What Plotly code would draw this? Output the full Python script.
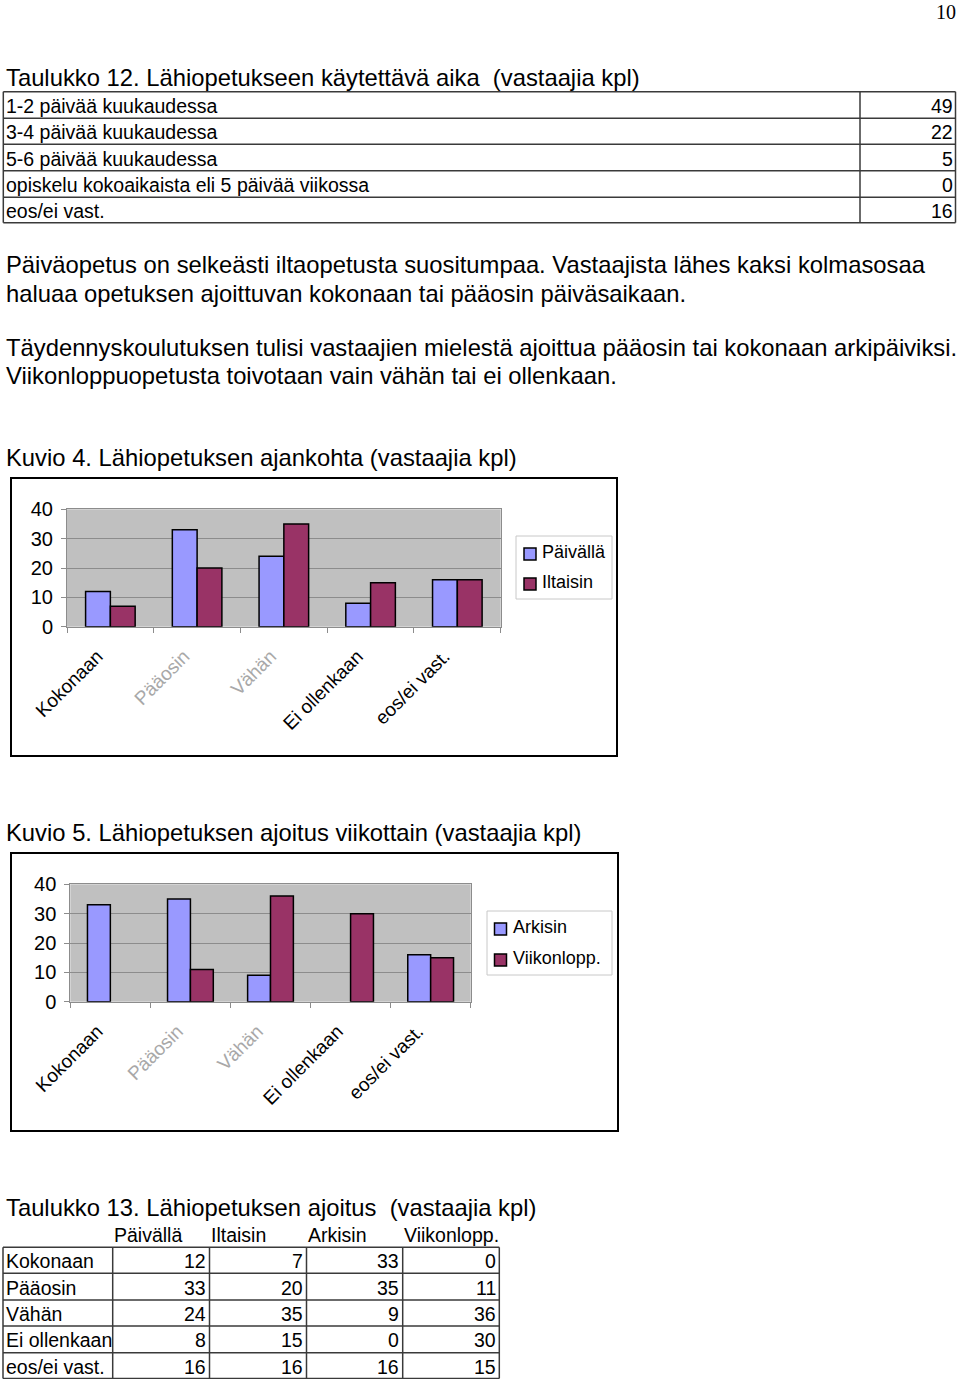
import plotly.graph_objects as go

# ---------------- data ----------------
categories = ["Kokonaan", "Pääosin", "Vähän", "Ei ollenkaan", "eos/ei vast."]
paivalla = [12, 33, 24, 8, 16]
iltaisin = [7, 20, 35, 15, 16]
arkisin = [33, 35, 9, 0, 16]
viikonlopp = [0, 11, 36, 30, 15]

t12_labels = ["1-2 päivää kuukaudessa", "3-4 päivää kuukaudessa", "5-6 päivää kuukaudessa",
              "opiskelu kokoaikaista eli 5 päivää viikossa", "eos/ei vast."]
t12_values = [49, 22, 5, 0, 16]

series_names = ["Päivällä", "Iltaisin", "Arkisin", "Viikonlopp."]
y_ticks = [0, 10, 20, 30, 40]

# ---------------- page geometry ----------------
W, H = 960, 1379
ARIAL = "Arial, Liberation Sans, sans-serif"
TIMES = "Times New Roman, Liberation Serif, serif"
BLUE = "#9999FF"
PLUM = "#993366"
TITLE_SIZE = 23.8
TABLE_SIZE = 19.5


def px(x):
    return x / W


def py(y):
    return 1 - y / H


annotations = []
shapes = []


def text(x, y, s, size=TITLE_SIZE, anchor="left", family=ARIAL, color="black"):
    annotations.append(dict(x=px(x), y=py(y), xref="paper", yref="paper", text=s,
                            showarrow=False, xanchor=anchor, yanchor="middle",
                            font=dict(size=size, family=family, color=color)))


def line(x0, y0, x1, y1, color="#3a3a3a", width=1.5):
    shapes.append(dict(type="line", xref="paper", yref="paper",
                       x0=px(x0), y0=py(y0), x1=px(x1), y1=py(y1),
                       line=dict(color=color, width=width)))


def rect(x0, y0, x1, y1, color="black", width=2, fill="rgba(0,0,0,0)"):
    shapes.append(dict(type="rect", xref="paper", yref="paper",
                       x0=px(x0), y0=py(y0), x1=px(x1), y1=py(y1),
                       line=dict(color=color, width=width), fillcolor=fill))


# page number
text(958, 12.5, "10", size=20, anchor="right", family=TIMES)

# Table 12
text(4, 77, "Taulukko 12. Lähiopetukseen käytettävä aika\u00a0 (vastaajia kpl)")
t12_rows = [91.7, 118.3, 144.3, 170.7, 197.3, 222.7]
for yy in t12_rows:
    line(3.3, yy, 955.5, yy)
for xx in [3.3, 860, 955.5]:
    line(xx, t12_rows[0], xx, t12_rows[-1])
for i, (lab, val) in enumerate(zip(t12_labels, t12_values)):
    yc = (t12_rows[i] + t12_rows[i + 1]) / 2 + 1
    text(4, yc, lab, size=TABLE_SIZE)
    text(955, yc, str(val), size=TABLE_SIZE, anchor="right")

# paragraphs
text(4, 265, "Päiväopetus on selkeästi iltaopetusta suositumpaa. Vastaajista lähes kaksi kolmasosaa")
text(4, 293, "haluaa opetuksen ajoittuvan kokonaan tai pääosin päiväsaikaan.")
text(4, 348, "Täydennyskoulutuksen tulisi vastaajien mielestä ajoittua pääosin tai kokonaan arkipäiviksi.")
text(4, 375, "Viikonloppuopetusta toivotaan vain vähän tai ei ollenkaan.")

# chart titles and frames
text(4, 457, "Kuvio 4. Lähiopetuksen ajankohta (vastaajia kpl)")
rect(11, 478, 617, 756)
text(4, 832, "Kuvio 5. Lähiopetuksen ajoitus viikottain (vastaajia kpl)")
rect(11, 853, 618, 1131)


# legends (drawn as boxes next to each chart)
def legend_box(x0, y0, x1, y1, sq_x, items):
    rect(x0, y0, x1, y1, color="#c8c8c8", width=1, fill="white")
    for name, color, yc in items:
        rect(sq_x, yc - 6, sq_x + 12, yc + 6, color="black", width=1.5, fill=color)
        text(sq_x + 16, yc - 2.5, name, size=18)


legend_box(516, 536, 612, 599, 524, [(series_names[0], BLUE, 554), (series_names[1], PLUM, 584)])
legend_box(487, 911, 612, 975, 494.5, [(series_names[2], BLUE, 929), (series_names[3], PLUM, 960)])

# Table 13
text(4, 1207, "Taulukko 13. Lähiopetuksen ajoitus\u00a0 (vastaajia kpl)")
t13_cols = [3, 112.7, 209.5, 306.5, 402.7, 499.3]
t13_rows = [1247.3, 1273.3, 1300, 1326, 1352.7, 1378.5]
for j, c in enumerate(series_names):
    text(t13_cols[j + 1] - 0.5, 1235, c, size=TABLE_SIZE)
for yy in t13_rows:
    line(3, yy, 499.3, yy)
for xx in t13_cols:
    line(xx, t13_rows[0], xx, t13_rows[-1])
t13_data = [paivalla, iltaisin, arkisin, viikonlopp]
for i, cat in enumerate(categories):
    yc = (t13_rows[i] + t13_rows[i + 1]) / 2 + 1
    text(4, yc, cat, size=TABLE_SIZE)
    for j, series in enumerate(t13_data):
        text(t13_cols[j + 2] - 1.5, yc, str(series[i]), size=TABLE_SIZE, anchor="right")

# ---------------- charts ----------------
faint = {"Pääosin", "Vähän"}
tick_text = [f"<span style='color:#a8a8a8'>{c}</span>" if c in faint else c for c in categories]


def bar(vals, name, color, xa, ya):
    widths = [0 if v == 0 else 1.5 for v in vals]
    return go.Bar(x=categories, y=vals, name=name, showlegend=False,
                  marker=dict(color=color, line=dict(color="black", width=widths)),
                  xaxis=xa, yaxis=ya)


fig = go.Figure()
fig.add_trace(bar(paivalla, series_names[0], BLUE, "x", "y"))
fig.add_trace(bar(iltaisin, series_names[1], PLUM, "x", "y"))
fig.add_trace(bar(arkisin, series_names[2], BLUE, "x2", "y2"))
fig.add_trace(bar(viikonlopp, series_names[3], PLUM, "x2", "y2"))

GRID = "#8c8c8c"


def xaxis_cfg(x0, x1, anchor):
    return dict(domain=[px(x0), px(x1)], anchor=anchor, showgrid=False, tickson="boundaries",
                ticks="outside", ticklen=5, tickcolor=GRID, showline=True, linecolor=GRID,
                mirror=True, tickangle=-45, tickfont=dict(size=19, family=ARIAL, color="black"),
                tickmode="array", tickvals=categories, ticktext=tick_text,
                ticklabelstandoff=10, ticklabelshift=-13,
                automargin=False, fixedrange=True)


def yaxis_cfg(y0, y1, anchor):
    return dict(domain=[py(y1), py(y0)], anchor=anchor, range=[0, 40], tickvals=y_ticks,
                showgrid=True, gridcolor=GRID, gridwidth=1, zeroline=False, showline=True,
                linecolor=GRID, mirror=True, ticks="outside", ticklen=5, tickcolor=GRID,
                tickfont=dict(size=20, family=ARIAL, color="black"), ticklabelstandoff=4,
                automargin=False, fixedrange=True)


fig.update_layout(
    width=W, height=H, autosize=False,
    margin=dict(l=0, r=0, t=0, b=0, pad=0),
    paper_bgcolor="white", plot_bgcolor="#C0C0C0",
    barmode="group", bargap=0.4286, bargroupgap=0,
    showlegend=False,
    xaxis=xaxis_cfg(67, 500.7, "y"),
    yaxis=yaxis_cfg(509.3, 626.7, "x"),
    xaxis2=xaxis_cfg(70.3, 470.7, "y2"),
    yaxis2=yaxis_cfg(884.3, 1001.7, "x2"),
    annotations=annotations, shapes=shapes,
    font=dict(family=ARIAL),
)

fig.write_html("out.html")
